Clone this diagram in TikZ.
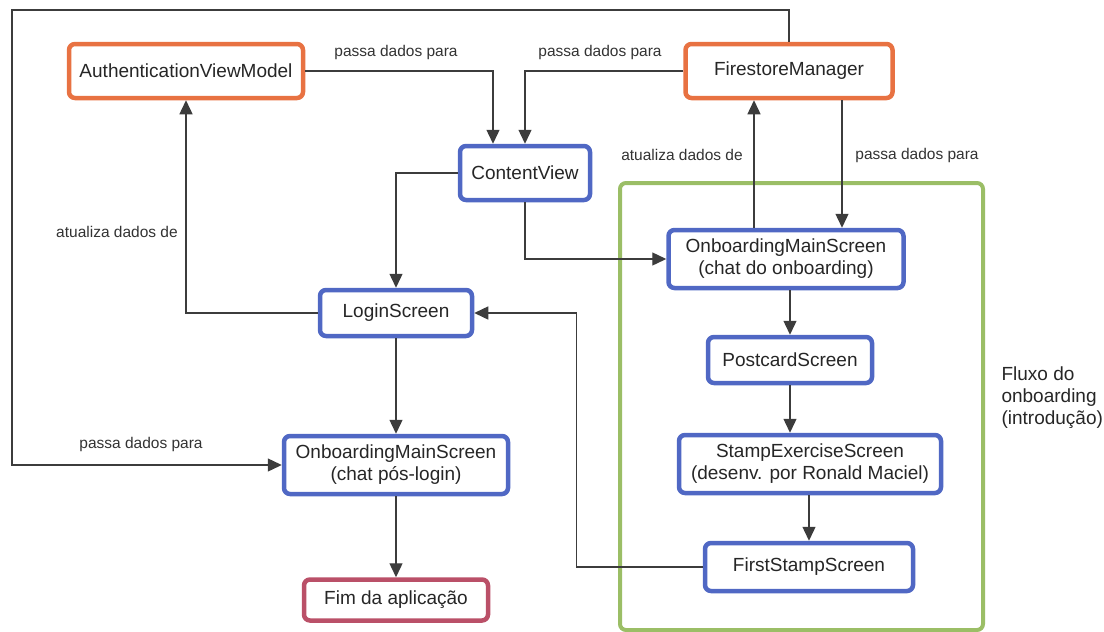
\documentclass[tikz,border=0pt]{standalone}
\usepackage{fontspec}
\setmainfont{Liberation Sans}
\usepackage{tikz}
\usetikzlibrary{arrows.meta}
\definecolor{orbord}{RGB}{232,114,66}
\definecolor{blbord}{RGB}{80,104,196}
\definecolor{grbord}{RGB}{155,190,102}
\definecolor{rdbord}{RGB}{186,80,104}
\definecolor{lnclr}{RGB}{60,60,60}

\begin{document}
\begin{tikzpicture}[x=1pt,y=-1pt,
	box/.style={draw,line width=4.5pt,rounded corners=6pt,fill=white,align=center,
		font=\fontsize{19}{22}\selectfont,text=black!85},
	orbox/.style={box,draw=orbord},
	blbox/.style={box,draw=blbord},
	rdbox/.style={box,draw=rdbord},
	conn/.style={draw=lnclr,line width=1.4pt,-{Triangle[length=14pt,width=13pt]}},
	lbl/.style={font=\fontsize{15.5}{18}\selectfont,text=black!80}]
	\useasboundingbox (0,0) rectangle (1104,632);

	%onboarding group
	\draw[grbord,line width=4pt,rounded corners=6pt] (620,183) rectangle (983,630);
	\node[font=\fontsize{19}{22}\selectfont,text=black!85,align=left,anchor=west] (fluxo) at (998,398) {Fluxo do\\onboarding\\(introdução)};

	%top row
	\node[orbox,minimum width=234,minimum height=54] (avm) at (186,71) {AuthenticationViewModel};
	\node[orbox,minimum width=207,minimum height=54] (fsm) at (789,71) {FirestoreManager};

	%main column
	\node[blbox,minimum width=130,minimum height=54] (cview) at (525,173) {ContentView};
	\node[blbox,minimum width=152,minimum height=46] (login) at (396,313) {LoginScreen};
	\node[blbox,minimum width=224,minimum height=58] (omspos) at (396,465) {OnboardingMainScreen\\(chat pós-login)};
	\node[rdbox,minimum width=184,minimum height=41] (fim) at (396,600) {Fim da aplicação};

	%onboarding column
	\node[blbox,minimum width=235,minimum height=58] (omsonb) at (786,259) {OnboardingMainScreen\\(chat do onboarding)};
	\node[blbox,minimum width=164,minimum height=46] (postcard) at (790,360) {PostcardScreen};
	\node[blbox,minimum width=262,minimum height=58] (stampex) at (810,464) {StampExerciseScreen\\(desenv. por Ronald Maciel)};
	\node[blbox,minimum width=208,minimum height=48] (firststamp) at (809,567) {FirstStampScreen};

	%connectors
	\draw[conn] (avm.east) -| ([xshift=-32]cview.north);
	\draw[conn] (fsm.west) -| (cview.north);
	\draw[conn] (cview.west) -| (login.north);
	\draw[conn] (cview.south) |- (omsonb.west);
	\draw[conn] (login.west) -| (avm.south);
	\draw[conn] ([xshift=-32]omsonb.north) -- ([xshift=-32]omsonb.north |- fsm.south);
	\draw[conn] ([xshift=53]fsm.south) -- ([xshift=53]fsm.south |- omsonb.north);
	\draw[conn] (postcard.north |- omsonb.south) -- (postcard.north);
	\draw[conn] (postcard.south) -- (postcard.south |- stampex.north);
	\draw[conn] (firststamp.north |- stampex.south) -- (firststamp.north);
	\draw[conn] (firststamp.west) -- ++(-126,0) |- (login.east);
	\draw[conn] (login.south) -- (omspos.north);
	\draw[conn] (omspos.south) -- (fim.north);
	\coordinate (topleft) at (12,10);
	\draw[conn] (fsm.north) |- (topleft) |- (omspos.west);

	%labels
	\node[lbl] (lbavm) at (396,52) {passa dados para};
	\node[lbl] (lbfsm) at (600,52) {passa dados para};
	\node[lbl] (lbfsmdown) at (917,155) {passa dados para};
	\node[lbl] (lbtop) at (141,444) {passa dados para};
	\node[lbl] (lblogin) at (117,232) {atualiza dados de};
	\node[lbl] (lbonb) at (682,155) {atualiza dados de};
\end{tikzpicture}
\end{document}
